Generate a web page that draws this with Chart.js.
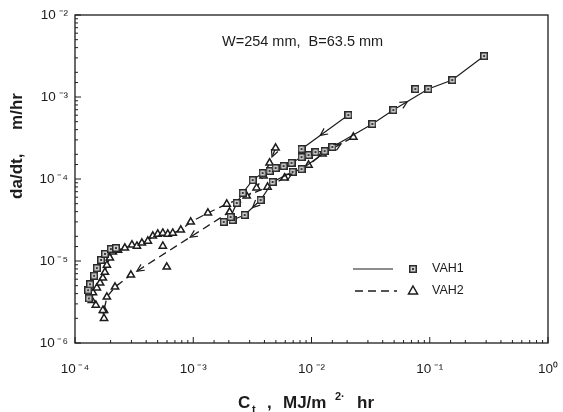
<!DOCTYPE html>
<html>
<head>
<meta charset="utf-8">
<script src="https://cdn.jsdelivr.net/npm/chart.js@4.4.1/dist/chart.umd.min.js"></script>
<style>
  html, body { margin: 0; padding: 0; background: #fff; }
  canvas { display: block; }
</style>
</head>
<body>
<canvas id="crack-chart" width="563" height="412"></canvas>
<script>
// values: C_t in MJ/m2.hr, da/dt in m/hr
// VAH1 (squares, solid line)
const vah1EarlyCt   = [1.31e-4, 1.29e-4, 1.34e-4, 1.45e-4, 1.53e-4, 1.66e-4, 1.79e-4, 2.01e-4, 2.22e-4];
const vah1EarlyRate = [3.5e-6, 4.4e-6, 5.2e-6, 6.6e-6, 8.2e-6, 1.03e-5, 1.22e-5, 1.40e-5, 1.44e-5];

const vah1LoadCt   = [1.81e-3, 2.07e-3, 2.33e-3, 2.62e-3, 3.18e-3, 3.86e-3, 4.42e-3, 4.97e-3, 5.81e-3, 6.78e-3,
                      8.24e-3, 9.44e-3, 1.08e-2, 1.29e-2, 1.50e-2, 3.27e-2, 4.92e-2, 9.71e-2, 0.155, 0.288];
const vah1LoadRate = [3.0e-5, 3.44e-5, 5.1e-5, 6.75e-5, 9.7e-5, 1.18e-4, 1.25e-4, 1.36e-4, 1.44e-4, 1.57e-4,
                      1.85e-4, 1.96e-4, 2.13e-4, 2.19e-4, 2.46e-4, 4.69e-4, 6.94e-4, 1.25e-3, 1.61e-3, 3.16e-3];

const vah1DropACt   = [2.05e-2, 8.24e-3];
const vah1DropARate = [6.03e-4, 2.32e-4];

const vah1DropBCt   = [1.50e-2, 8.24e-3, 6.92e-3, 4.69e-3, 3.71e-3, 2.72e-3, 2.15e-3];
const vah1DropBRate = [2.46e-4, 1.32e-4, 1.22e-4, 9.2e-5, 5.54e-5, 3.64e-5, 3.16e-5];

const vah1LoneCt   = [7.55e-2];
const vah1LoneRate = [1.25e-3];

// VAH2 (triangles, dashed line)
const vah2LoadCt   = [1.76e-4, 1.72e-4, 1.50e-4, 1.39e-4, 1.42e-4, 1.53e-4, 1.63e-4, 1.72e-4, 1.79e-4, 1.86e-4,
                      1.97e-4, 2.09e-4, 2.31e-4, 2.64e-4, 3.03e-4, 3.34e-4, 3.68e-4, 4.13e-4, 4.55e-4, 5.01e-4,
                      5.53e-4, 6.09e-4, 6.71e-4, 7.85e-4, 9.52e-4, 1.33e-3, 1.92e-3, 2.83e-3, 4.25e-3, 5.92e-3,
                      9.44e-3, 1.24e-2, 2.26e-2];
const vah2LoadRate = [2.0e-6, 2.5e-6, 2.9e-6, 3.3e-6, 4.1e-6, 4.7e-6, 5.4e-6, 6.2e-6, 7.3e-6, 8.9e-6,
                      1.09e-5, 1.29e-5, 1.36e-5, 1.44e-5, 1.57e-5, 1.52e-5, 1.66e-5, 1.75e-5, 2.02e-5, 2.13e-5,
                      2.19e-5, 2.13e-5, 2.19e-5, 2.39e-5, 2.99e-5, 3.85e-5, 4.95e-5, 6.21e-5, 7.98e-5, 1.03e-4,
                      1.48e-4, 2.02e-4, 3.25e-4];

const vah2DropCt   = [4.97e-3, 4.42e-3, 3.93e-3, 3.43e-3, 2.03e-3, 2.97e-4, 2.18e-4, 1.86e-4, 1.76e-4];
const vah2DropRate = [2.39e-4, 1.57e-4, 1.09e-4, 7.8e-5, 3.96e-5, 6.75e-6, 4.82e-6, 3.64e-6, 2.5e-6];

const vah2LoneCt   = [5.53e-4, 5.97e-4];
const vah2LoneRate = [1.52e-5, 8.45e-6];

const xTickLabels = ['10\u2009\u207B\u2074', '10\u2009\u207B\u00B3', '10\u2009\u207B\u00B2', '10\u2009\u207B\u00B9', '10\u2070'];
const yTickLabels = ['10\u2009\u207B\u2076', '10\u2009\u207B\u2075', '10\u2009\u207B\u2074', '10\u2009\u207B\u00B3', '10\u2009\u207B\u00B2'];

// direction arrows: dataset index, segment index, position along segment
const arrowMarks = [
  { ds: 1, seg: 16, t: 0.4 },
  { ds: 2, seg: 0, t: 0.6 },
  { ds: 3, seg: 4, t: 0.5 },
  { ds: 5, seg: 29, t: 0.3 },
  { ds: 5, seg: 31, t: 0.6 },
  { ds: 6, seg: 0, t: 0.6 },
  { ds: 6, seg: 4, t: 0.4 },
  { ds: 6, seg: 4, t: 0.94 }
];

const FONT = "'Liberation Sans', Arial, Helvetica, sans-serif";
const INK = '#1c1c1c';

function pairs(xs, ys) {
  return xs.map((x, i) => ({ x: x, y: ys[i] }));
}

function squareMarker() {
  const c = document.createElement('canvas');
  c.width = 8; c.height = 8;
  const g = c.getContext('2d');
  g.fillStyle = '#2a2a2a';
  g.fillRect(0, 0, 8, 8);
  g.fillStyle = '#cfcfcf';
  g.fillRect(1.5, 1.5, 5, 5);
  g.fillStyle = '#3a3a3a';
  g.fillRect(3, 3, 2, 2);
  return c;
}
const sq = squareMarker();

function vah1(xs, ys, line) {
  return {
    data: pairs(xs, ys),
    showLine: line,
    borderColor: INK,
    borderWidth: 1.2,
    pointStyle: sq,
    pointRadius: 4
  };
}
function vah2(xs, ys, line) {
  return {
    data: pairs(xs, ys),
    showLine: line,
    borderColor: INK,
    borderWidth: 1.3,
    borderDash: [8, 5],
    pointStyle: 'triangle',
    pointRadius: 4.2,
    pointBorderWidth: 1.5,
    pointBorderColor: INK,
    pointBackgroundColor: '#fff'
  };
}

function powLabel(list, offset) {
  return function(value) {
    const l = Math.log10(value);
    const e = Math.round(l);
    if (Math.abs(l - e) > 1e-6) return '';
    return list[e + offset];
  };
}

const framePlugin = {
  id: 'frame',
  afterDraw(chart) {
    const { ctx, chartArea: a, scales } = chart;
    ctx.save();
    ctx.strokeStyle = INK;
    ctx.lineWidth = 1.3;
    ctx.strokeRect(a.left, a.top, a.right - a.left, a.bottom - a.top);
    // inward tick marks
    ctx.lineWidth = 1;
    scales.x.ticks.forEach(t => {
      const px = scales.x.getPixelForValue(t.value);
      const l = Math.log10(t.value);
      const len = Math.abs(l - Math.round(l)) < 1e-6 ? 6 : 3;
      ctx.beginPath(); ctx.moveTo(px, a.bottom); ctx.lineTo(px, a.bottom - len); ctx.stroke();
    });
    scales.y.ticks.forEach(t => {
      const py = scales.y.getPixelForValue(t.value);
      const l = Math.log10(t.value);
      const len = Math.abs(l - Math.round(l)) < 1e-6 ? 6 : 3;
      ctx.beginPath(); ctx.moveTo(a.left, py); ctx.lineTo(a.left + len, py); ctx.stroke();
    });
    ctx.restore();
  }
};

const arrowPlugin = {
  id: 'arrows',
  afterDatasetsDraw(chart) {
    const ctx = chart.ctx;
    ctx.save();
    ctx.strokeStyle = INK;
    ctx.lineWidth = 1.2;
    arrowMarks.forEach(m => {
      const pts = chart.getDatasetMeta(m.ds).data;
      const p0 = pts[m.seg], p1 = pts[m.seg + 1];
      const x = p0.x + m.t * (p1.x - p0.x);
      const y = p0.y + m.t * (p1.y - p0.y);
      const ang = Math.atan2(p1.y - p0.y, p1.x - p0.x);
      const L = 8;
      ctx.beginPath();
      ctx.moveTo(x - L * Math.cos(ang - 0.45), y - L * Math.sin(ang - 0.45));
      ctx.lineTo(x, y);
      ctx.lineTo(x - L * Math.cos(ang + 0.45), y - L * Math.sin(ang + 0.45));
      ctx.stroke();
    });
    ctx.restore();
  }
};

const textPlugin = {
  id: 'texts',
  afterDraw(chart) {
    const ctx = chart.ctx;
    ctx.save();
    ctx.fillStyle = INK;
    ctx.textBaseline = 'middle';

    // note at top
    ctx.font = '14.5px ' + FONT;
    ctx.textAlign = 'left';
    ctx.fillText('W=254 mm,  B=63.5 mm', 222, 42);

    // legend
    ctx.strokeStyle = INK;
    ctx.lineWidth = 1.2;
    ctx.beginPath(); ctx.moveTo(353, 269); ctx.lineTo(393, 269); ctx.stroke();
    ctx.drawImage(sq, 409, 265);
    ctx.setLineDash([8, 5]);
    ctx.lineWidth = 1.3;
    ctx.beginPath(); ctx.moveTo(355, 291); ctx.lineTo(397, 291); ctx.stroke();
    ctx.setLineDash([]);
    ctx.lineWidth = 1.5;
    ctx.beginPath(); ctx.moveTo(413, 286); ctx.lineTo(417.5, 294); ctx.lineTo(408.5, 294); ctx.closePath(); ctx.stroke();
    ctx.font = '12.5px ' + FONT;
    ctx.fillText('VAH1', 432, 269);
    ctx.fillText('VAH2', 432, 291);

    // y axis title
    ctx.save();
    ctx.translate(17, 146);
    ctx.rotate(-Math.PI / 2);
    ctx.textAlign = 'center';
    ctx.font = 'bold 17px ' + FONT;
    ctx.fillText('da/dt,     m/hr', 0, 0);
    ctx.restore();

    // x axis title
    ctx.textAlign = 'left';
    ctx.textBaseline = 'alphabetic';
    ctx.font = 'bold 17px ' + FONT;
    ctx.fillText('C', 238, 408);
    ctx.font = 'bold 11px ' + FONT;
    ctx.fillText('t', 252, 413);
    ctx.font = 'bold 17px ' + FONT;
    ctx.fillText(',', 267, 408);
    ctx.fillText('MJ/m', 283, 408);
    ctx.font = 'bold 11px ' + FONT;
    ctx.fillText('2\u00B7', 335, 400);
    ctx.font = 'bold 17px ' + FONT;
    ctx.fillText('hr', 357, 408);
    ctx.restore();
  }
};

new Chart(document.getElementById('crack-chart'), {
  type: 'scatter',
  data: {
    datasets: [
      vah1(vah1EarlyCt, vah1EarlyRate, true),
      vah1(vah1LoadCt, vah1LoadRate, true),
      vah1(vah1DropACt, vah1DropARate, true),
      vah1(vah1DropBCt, vah1DropBRate, true),
      vah1(vah1LoneCt, vah1LoneRate, false),
      vah2(vah2LoadCt, vah2LoadRate, true),
      vah2(vah2DropCt, vah2DropRate, true),
      vah2(vah2LoneCt, vah2LoneRate, false)
    ]
  },
  options: {
    responsive: false,
    devicePixelRatio: 1,
    animation: false,
    layout: { padding: { top: 15, right: 15, left: 0, bottom: 0 } },
    plugins: { legend: { display: false }, tooltip: { enabled: false } },
    scales: {
      x: {
        type: 'logarithmic',
        min: 1e-4,
        max: 1,
        border: { display: false },
        grid: { display: false, drawTicks: false },
        ticks: {
          autoSkip: false,
          maxRotation: 0,
          padding: 18,
          color: INK,
          font: { family: FONT, size: 13.5 },
          callback: powLabel(xTickLabels, 4)
        },
        afterFit(scale) {
          scale.height = 69;
          // keep the tick padding from eating into the plot width
          scale.paddingLeft = 0;
          scale.paddingRight = 0;
        }
      },
      y: {
        type: 'logarithmic',
        min: 1e-6,
        max: 1e-2,
        border: { display: false },
        grid: { display: false, drawTicks: false },
        ticks: {
          autoSkip: false,
          padding: 7,
          color: INK,
          font: { family: FONT, size: 13.5 },
          callback: powLabel(yTickLabels, 6)
        },
        afterFit(scale) {
          scale.width = 75;
          scale.paddingTop = 0;
          scale.paddingBottom = 0;
        }
      }
    }
  },
  plugins: [framePlugin, arrowPlugin, textPlugin]
});
</script>
</body>
</html>
